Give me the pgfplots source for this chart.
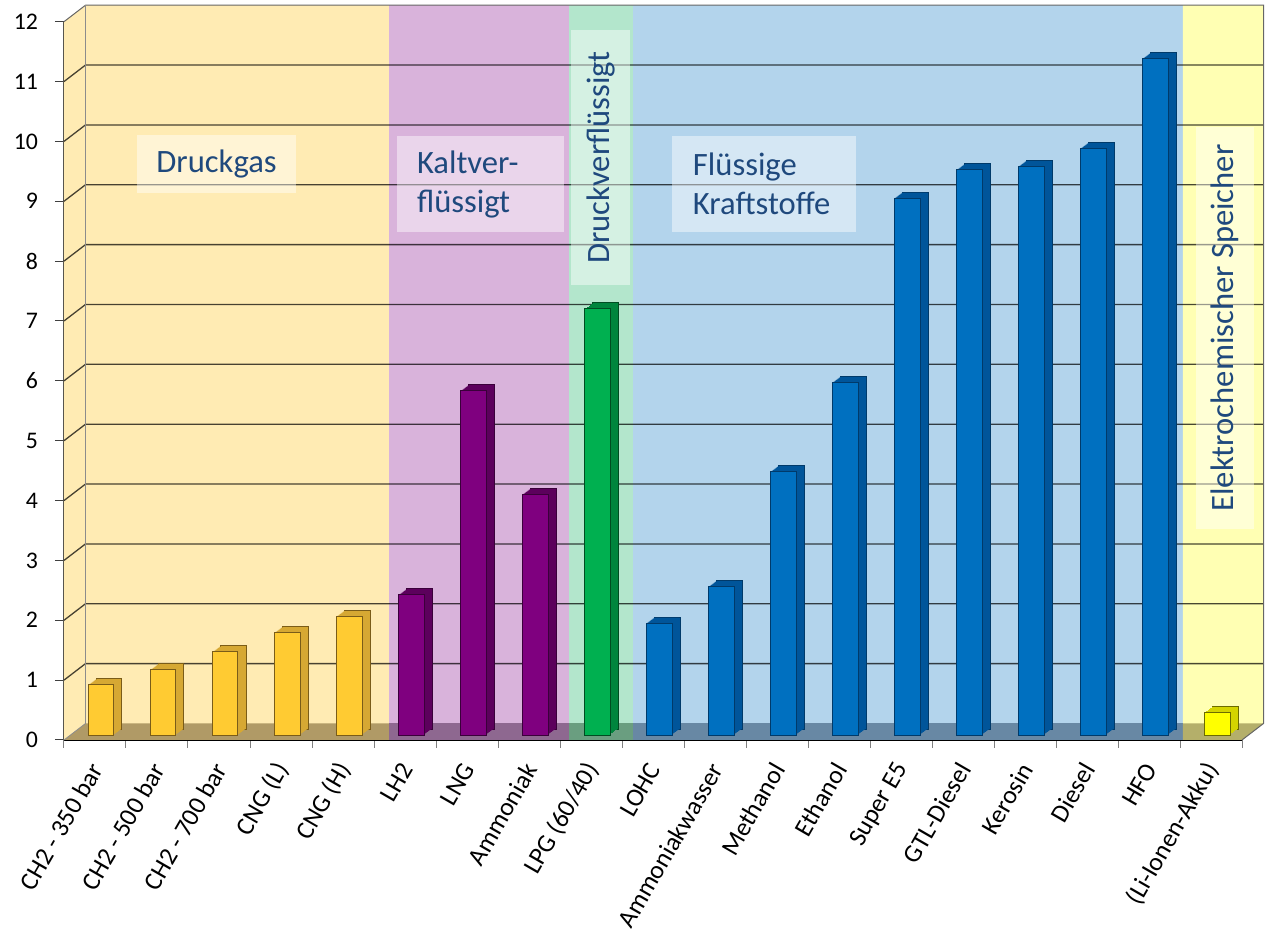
\documentclass[border=0pt]{standalone}
\usepackage{fontspec}
\setmainfont{Carlito}
\usepackage{pgfplots}
\usepackage{pgfplotstable}
\pgfplotsset{compat=1.18}

\definecolor{cDruck}{HTML}{FFEBB3}
\definecolor{cKalt}{HTML}{D9B3DB}
\definecolor{cLPG}{HTML}{B3E6CC}
\definecolor{cFl}{HTML}{B3D4EC}
\definecolor{cAkku}{HTML}{FFFFB3}
\definecolor{fDruck}{HTML}{B09A66}
\definecolor{fKalt}{HTML}{8E6890}
\definecolor{fLPG}{HTML}{6A9E80}
\definecolor{fFl}{HTML}{6888A4}
\definecolor{fAkku}{HTML}{B4AF6A}
\definecolor{txtblue}{HTML}{1F497D}
% bar colours
\definecolor{yF}{HTML}{FFCB32}\definecolor{yS}{HTML}{D6A833}\definecolor{yE}{HTML}{7A5C18}
\definecolor{pF}{HTML}{7F007F}\definecolor{pS}{HTML}{5C005C}\definecolor{pE}{HTML}{3A003A}
\definecolor{gF}{HTML}{00B050}\definecolor{gS}{HTML}{00853D}\definecolor{gE}{HTML}{004D22}
\definecolor{bF}{HTML}{0070C0}\definecolor{bS}{HTML}{00559A}\definecolor{bE}{HTML}{003A6A}
\definecolor{aF}{HTML}{FFFF00}\definecolor{aS}{HTML}{D4D400}\definecolor{aE}{HTML}{6B6B00}

\pgfplotstableread{
x v
0 0.84
1 1.09
2 1.39
3 1.71
4 1.98
}\druckgas
\pgfplotstableread{
x v
5 2.34
6 5.75
7 4.02
}\kalt
\pgfplotstableread{
x v
8 7.12
}\lpg
\pgfplotstableread{
x v
9 1.87
10 2.48
11 4.40
12 5.89
13 8.97
14 9.44
15 9.50
16 9.80
17 11.30
}\fluessig
\pgfplotstableread{
x v
18 0.38
}\akku

\newcommand{\sidecopy}[4]{\addplot[ybar,bar width=12.65pt,bar shift=#2,yshift=#3,fill=#4,draw=none] table[x=x,y=v]{#1};}
\newcommand{\bargroup}[4]{%
  \addplot[ybar,bar width=12.65pt,bar shift=7.15pt,yshift=5.5pt,fill=#3,draw=#4,line width=0.45pt] table[x=x,y=v]{#1};
  \sidecopy{#1}{6.65pt}{5.125pt}{#3}
  \sidecopy{#1}{6.15pt}{4.75pt}{#3}
  \sidecopy{#1}{5.65pt}{4.375pt}{#3}
  \sidecopy{#1}{5.15pt}{4.0pt}{#3}
  \sidecopy{#1}{4.65pt}{3.625pt}{#3}
  \sidecopy{#1}{4.15pt}{3.25pt}{#3}
  \sidecopy{#1}{3.65pt}{2.875pt}{#3}
  \addplot[ybar,bar width=12.65pt,bar shift=3.15pt,yshift=2.5pt,fill=#2,draw=#4,line width=0.45pt] table[x=x,y=v]{#1};
}

\begin{document}
\begin{tikzpicture}
\path (0,0) rectangle (635pt,468pt);
\begin{axis}[
  at={(32pt,98pt)}, anchor=south west,
  scale only axis, width=589pt, height=359.15pt,
  xmin=-0.5, xmax=18.5, ymin=0, ymax=12,
  clip=false,
  axis x line=bottom, axis y line=left, axis line style={-},
  x axis line style={black, line width=1pt},
  y axis line style={black!75, line width=0.5pt},
  xtick={0,...,18},
  xticklabels={CH2 - 350 bar, CH2 - 500 bar, CH2 - 700 bar, CNG (L), CNG (H), LH2, LNG, Ammoniak, LPG (60/40), LOHC, Ammoniakwasser, Methanol, Ethanol, Super E5, GTL-Diesel, Kerosin, Diesel, HFO, (Li-Ionen-Akku)},
  minor xtick={-0.5,0.5,...,18.5},
  ytick={0,...,12},
  tick align=outside,
  major tick length=4.5pt, minor tick length=4pt,
  major x tick style={draw=none},
  minor x tick style={black!50, line width=0.5pt},
  major y tick style={black!75, line width=0.5pt},
  /pgf/number format/assume math mode=true,
  yticklabel shift=5pt,
  yticklabel style={font=\fontsize{11.9}{14}\selectfont, text=black},
  xticklabel style={font=\fontsize{12.8}{15}\selectfont, text=black, xshift=0.8pt, yshift=-8pt, rotate=60, anchor=east, inner sep=0pt},
]
% coloured regions (back wall + left wall)
\fill[cDruck] (axis cs:-0.5,0) -- (axis cs:-0.5,12) -- (axis cs:-0.1532,12.2756) -- (axis cs:4.742,12.2756) -- (axis cs:4.742,0) -- cycle;
\fill[cKalt] (axis cs:4.742,0) rectangle (axis cs:7.645,12.2756);
\fill[cLPG] (axis cs:7.645,0) rectangle (axis cs:8.677,12.2756);
\fill[cFl] (axis cs:8.677,0) rectangle (axis cs:17.548,12.2756);
\fill[cAkku] (axis cs:17.548,0) -- (axis cs:18.5,0) -- (axis cs:18.8468,0.2756) -- (axis cs:18.8468,12.2756) -- (axis cs:17.548,12.2756) -- cycle;
% floor
\fill[fDruck] (axis cs:-0.5,0) -- (axis cs:4.742,0) -- (axis cs:4.742,0.2756) -- (axis cs:-0.1532,0.2756) -- cycle;
\fill[fKalt] (axis cs:4.742,0) rectangle (axis cs:7.645,0.2756);
\fill[fLPG] (axis cs:7.645,0) rectangle (axis cs:8.677,0.2756);
\fill[fFl] (axis cs:8.677,0) rectangle (axis cs:17.548,0.2756);
\fill[fAkku] (axis cs:17.548,0) -- (axis cs:18.5,0) -- (axis cs:18.8468,0.2756) -- (axis cs:17.548,0.2756) -- cycle;
% grid lines on back wall
\pgfplotsinvokeforeach{1,...,11}{
  \draw[black, opacity=0.72, line width=0.65pt] (axis cs:-0.5,#1) -- ([xshift=10.75pt,yshift=8.25pt]axis cs:-0.5,#1) -- ([xshift=10.75pt,yshift=8.25pt]axis cs:18.5,#1);
}
% wall edges
\draw[black!60, line width=0.5pt] (axis cs:-0.5,12) -- (axis cs:-0.1532,12.2756) -- (axis cs:18.8468,12.2756) -- (axis cs:18.8468,0.2756) -- (axis cs:18.5,0);
\draw[black!45, line width=0.4pt] (axis cs:-0.1532,12.2756) -- (axis cs:-0.1532,0.2756) -- (axis cs:-0.5,0);
% bars
\bargroup{\druckgas}{yF}{yS}{yE}
\bargroup{\kalt}{pF}{pS}{pE}
\bargroup{\lpg}{gF}{gS}{gE}
\bargroup{\fluessig}{bF}{bS}{bE}
\bargroup{\akku}{aF}{aS}{aE}
% group labels
\tikzset{grp/.style={fill=white, fill opacity=0.45, text opacity=1, text=txtblue, font=\fontsize{16.3}{19.5}\selectfont, inner sep=0pt}}
\node[grp, minimum width=79.5pt, minimum height=29pt] at (axis cs:1.960,9.622) {Druckgas};
\node[grp, minimum width=83.5pt, minimum height=48pt, text width=63.5pt, align=left] at (axis cs:6.218,9.288) {Kaltver-\\flüssigt};
\node[grp, minimum width=127.5pt, minimum height=29.5pt, rotate=90] at (axis cs:8.153,9.731) {Druckverflüssigt};
\node[grp, minimum width=92pt, minimum height=48pt, text width=71pt, align=left] at (axis cs:10.790,9.288) {Flüssige\\Kraftstoffe};
\node[grp, minimum width=201pt, minimum height=29pt, rotate=90] at (axis cs:18.226,6.883) {Elektrochemischer Speicher};
\end{axis}
\end{tikzpicture}
\end{document}
